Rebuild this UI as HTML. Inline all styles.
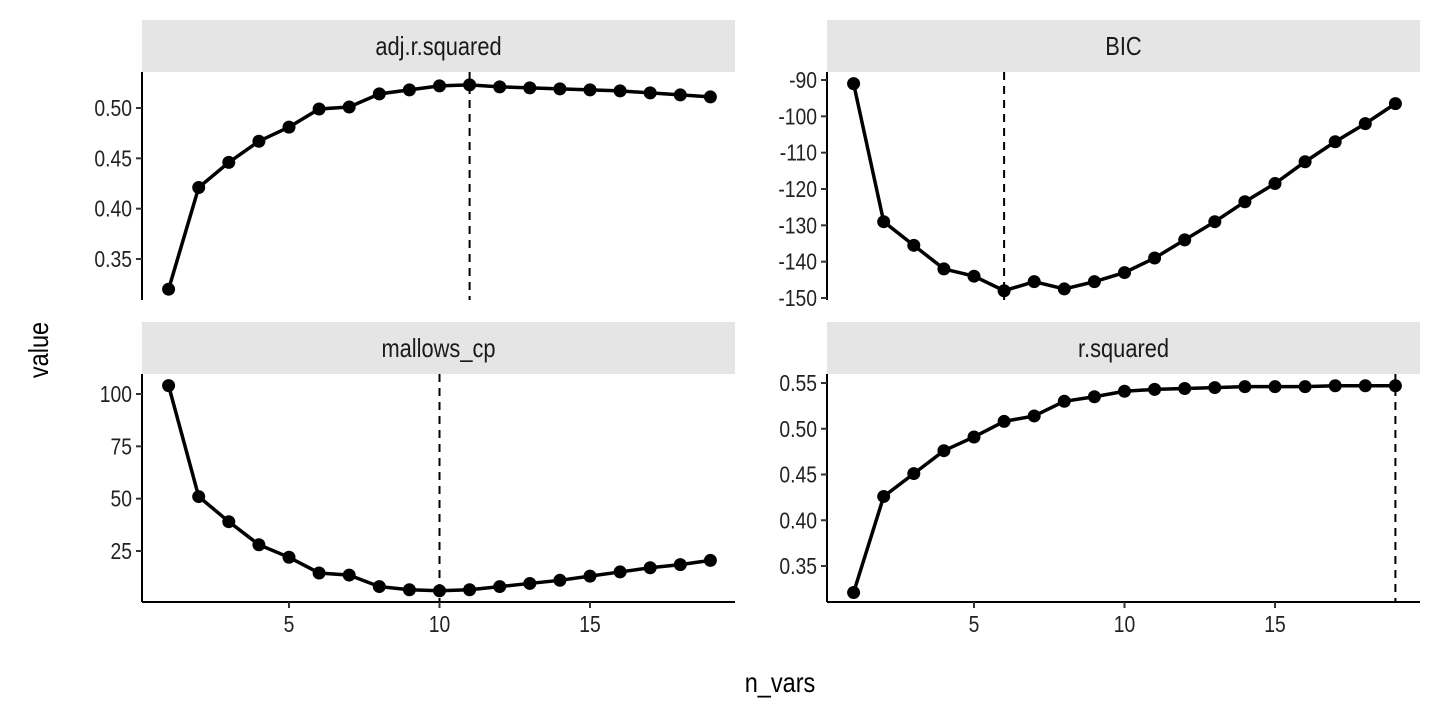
<!DOCTYPE html>
<html><head><meta charset="utf-8"><style>
html,body{margin:0;padding:0;background:#fff;}
svg text{font-family:"Liberation Sans Narrow","Liberation Sans",sans-serif;}
</style></head><body>
<svg id="c" width="1440" height="720" xmlns="http://www.w3.org/2000/svg"></svg>
<script>
const nVars = [1,2,3,4,5,6,7,8,9,10,11,12,13,14,15,16,17,18,19];
const adjR2 = [0.320,0.421,0.446,0.467,0.481,0.499,0.501,0.514,0.518,0.522,0.523,0.521,0.520,0.519,0.518,0.517,0.515,0.513,0.511];
const bic = [-91,-129,-135.5,-142,-144,-148,-145.5,-147.5,-145.5,-143,-139,-134,-129,-123.5,-118.5,-112.5,-107,-102,-96.5];
const cp = [104,51,39,28,22,14.5,13.5,8,6.5,6,6.5,8,9.5,11,13,15,17,18.5,20.5];
const r2 = [0.321,0.426,0.451,0.476,0.491,0.508,0.514,0.530,0.535,0.541,0.543,0.544,0.545,0.546,0.546,0.546,0.547,0.547,0.547];
const xTicks = [5,10,15];
const adjTicks = [0.35,0.40,0.45,0.50];
const bicTicks = [-150,-140,-130,-120,-110,-100,-90];
const cpTicks = [25,50,75,100];
const r2Ticks = [0.35,0.40,0.45,0.50,0.55];
const titles = ["adj.r.squared","BIC","mallows_cp","r.squared"];
const vlines = [11,6,10,19];

const svg=document.getElementById('c');
const NS='http://www.w3.org/2000/svg';
function mk(t,a,txt){const e=document.createElementNS(NS,t);for(const k in a)e.setAttribute(k,a[k]);if(txt!==undefined)e.textContent=txt;svg.appendChild(e);return e;}
function txt(x,y,anchor,size,s,fill){return mk('text',{x:0,y:0,'text-anchor':anchor,'font-size':size,fill:fill||'#222',transform:'translate('+x+','+y+') scale(0.84,1)'},s);}

const panels=[
 {x0:142,y0:72,y1:300,data:adjR2,ticks:adjTicks,fmt:v=>v.toFixed(2),ref:[0.50,108,0.35,259],bottom:false,name:'adj-r-squared'},
 {x0:827,y0:72,y1:300,data:bic,ticks:bicTicks,fmt:v=>String(v),ref:[-90,80,-150,298],bottom:false,name:'bic'},
 {x0:142,y0:374,y1:602,data:cp,ticks:cpTicks,fmt:v=>String(v),ref:[100,394,25,551],bottom:true,name:'mallows-cp'},
 {x0:827,y0:374,y1:602,data:r2,ticks:r2Ticks,fmt:v=>v.toFixed(2),ref:[0.55,383,0.35,566],bottom:true,name:'r-squared'}
];
panels.forEach((p,i)=>{
  const w=593;
  const xs=v=>p.x0+26.6+(v-1)*30.1;
  const ys=v=>p.ref[1]+(v-p.ref[0])*(p.ref[3]-p.ref[1])/(p.ref[2]-p.ref[0]);
  let e=mk('rect',{x:p.x0,y:p.y0-52,width:w,height:52,fill:'#e5e5e5'});
  
  
  e=txt(p.x0+w/2,p.y0-17,'middle',26,titles[i],'#1a1a1a');
  
  
  e=mk('line',{x1:p.x0,y1:p.y0,x2:p.x0,y2:p.y1,stroke:'#000','stroke-width':2});
  
  
  p.ticks.forEach(t=>{
    const y=ys(t);
    mk('line',{x1:p.x0-6,y1:y,x2:p.x0,y2:y,stroke:'#333','stroke-width':2});
    e=txt(p.x0-10,y+8,'end',23,p.fmt(t));
    
    
  });
  if(p.bottom){
    e=mk('line',{x1:p.x0,y1:p.y1,x2:p.x0+w,y2:p.y1,stroke:'#000','stroke-width':2});
    
    
    xTicks.forEach(t=>{
      const x=xs(t);
      mk('line',{x1:x,y1:p.y1,x2:x,y2:p.y1+6,stroke:'#333','stroke-width':2});
      e=txt(x,p.y1+30,'middle',23,String(t));
      
      
    });
  }
  e=mk('line',{x1:xs(vlines[i]),y1:p.y0,x2:xs(vlines[i]),y2:p.y1,stroke:'#000','stroke-width':2,'stroke-dasharray':'8,6'});
  
  
  e=mk('polyline',{points:p.data.map((v,j)=>xs(nVars[j])+','+ys(v)).join(' '),fill:'none',stroke:'#000','stroke-width':3.5});
  
  
  p.data.forEach((v,j)=>{
    const c=mk('circle',{cx:xs(nVars[j]),cy:ys(v),r:6.5,fill:'#000'});
    
    
  });
});
let t=mk('text',{x:0,y:0,'text-anchor':'middle','font-size':28,fill:'#000',transform:'translate(48,350) rotate(-90) scale(0.84,1)'},'value');


t=txt(780,692,'middle',28,'n_vars','#000');


</script>
</body></html>
